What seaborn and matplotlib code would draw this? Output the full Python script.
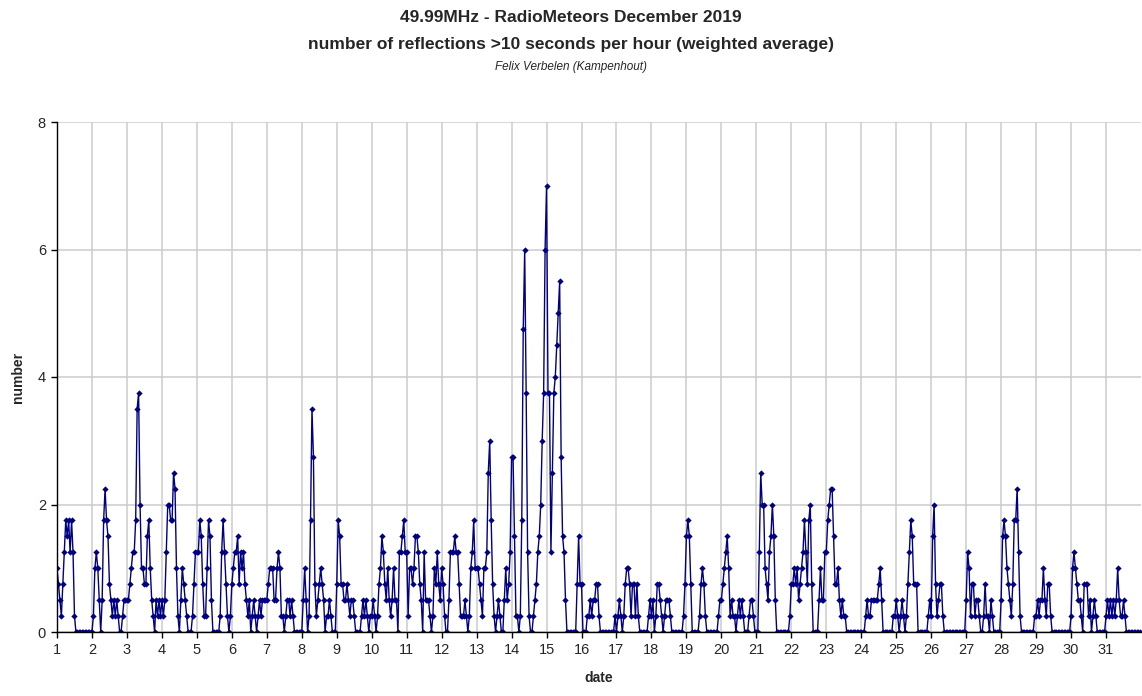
import numpy as np
import pandas as pd
import matplotlib
matplotlib.use("Agg")
import matplotlib.pyplot as plt
import seaborn as sns

# Hourly values (24 per day), December 2019
d01 = [1.0, 0.75, 0.5, 0.25, 0.75, 1.25, 1.75, 1.5, 1.75, 1.25, 1.75, 1.25, 0.25, 0, 0, 0, 0, 0, 0, 0, 0, 0, 0, 0]
d02 = [0, 0.25, 1.0, 1.25, 1.0, 0.5, 0, 0.5, 1.75, 2.25, 1.75, 1.5, 0.75, 0.5, 0.25, 0.5, 0.25, 0.5, 0.25, 0, 0, 0.25, 0.5, 0.5]
d03 = [0.5, 0.5, 0.75, 1.0, 1.25, 1.25, 1.75, 3.5, 3.75, 2.0, 1.0, 1.0, 0.75, 0.75, 1.5, 1.75, 1.0, 0.5, 0.25, 0, 0.5, 0.25, 0.5, 0.25]
d04 = [0.5, 0.25, 0.5, 1.25, 2.0, 2.0, 1.75, 1.75, 2.5, 2.25, 1.0, 0.25, 0, 0.5, 1.0, 0.75, 0.5, 0.25, 0, 0, 0, 0.25, 0.75, 1.25]
d05 = [1.25, 1.25, 1.75, 1.5, 0.75, 0.25, 0.25, 1.0, 1.75, 1.5, 0.5, 0, 0, 0, 0, 0, 0.25, 1.25, 1.75, 1.25, 0.75, 0.25, 0, 0.25]
d06 = [0.75, 1.0, 1.25, 1.25, 1.5, 0.75, 1.25, 1.0, 1.25, 0.75, 0.5, 0.25, 0.5, 0, 0.25, 0.5, 0.25, 0, 0.25, 0.5, 0.25, 0.5, 0.5, 0.5]
d07 = [0.5, 0.75, 1.0, 1.0, 1.0, 0.5, 0.5, 1.0, 1.25, 1.0, 0.25, 0.25, 0, 0.25, 0.5, 0.5, 0.25, 0.5, 0.25, 0, 0, 0, 0, 0]
d08 = [0, 0.5, 1.0, 0.5, 0, 0.25, 1.75, 3.5, 2.75, 0.75, 0.25, 0.5, 0.75, 1.0, 0.75, 0.5, 0, 0.25, 0.25, 0.5, 0.25, 0, 0, 0]
d09 = [0.75, 1.75, 1.5, 0.75, 0.75, 0.5, 0.5, 0.75, 0.5, 0.25, 0.5, 0.5, 0.25, 0, 0, 0, 0, 0.25, 0.5, 0.25, 0.5, 0.25, 0, 0.25]
d10 = [0.25, 0.5, 0.25, 0, 0.25, 0.75, 1.0, 1.5, 1.25, 0.75, 0.5, 1.0, 0.5, 0.25, 0.5, 1.0, 0.5, 0.5, 0, 1.25, 1.25, 1.5, 1.75, 1.25]
d11 = [1.25, 0.25, 1.0, 1.0, 0.75, 1.0, 1.5, 1.5, 1.25, 0.75, 0.5, 0, 1.25, 0.5, 0.5, 0.5, 0.25, 0, 0.25, 1.0, 0.75, 1.25, 0.75, 0.5]
d12 = [1.0, 0.75, 0.25, 0, 0, 0.5, 1.25, 1.25, 1.25, 1.5, 1.25, 1.25, 0.75, 0.25, 0.25, 0.25, 0.5, 0.25, 0, 0.25, 1.0, 1.25, 1.75, 1.0]
d13 = [1.0, 1.0, 0.75, 0.5, 0.25, 1.0, 1.0, 1.25, 2.5, 3.0, 1.75, 0.75, 0.25, 0, 0.25, 0.5, 0.25, 0, 0, 0.5, 1.0, 0.5, 0.75, 1.25]
d14 = [2.75, 2.75, 1.5, 0.25, 0.25, 0, 0.25, 1.75, 4.75, 6.0, 3.75, 1.25, 0.25, 0, 0, 0.25, 0.5, 0.75, 1.25, 1.5, 2.0, 3.0, 3.75, 6.0]
d15 = [7.0, 3.75, 3.75, 1.25, 2.5, 3.75, 4.0, 4.5, 5.0, 5.5, 2.75, 1.5, 1.25, 0.5, 0, 0, 0, 0, 0, 0, 0, 0.75, 1.5, 0.75]
d16 = [0.75, 0, 0, 0, 0.25, 0.25, 0.5, 0.25, 0.5, 0.5, 0.75, 0.75, 0.25, 0, 0, 0, 0, 0, 0, 0, 0, 0, 0, 0.25]
d17 = [0, 0.25, 0.5, 0.25, 0, 0.25, 0.75, 1.0, 1.0, 0.75, 0.25, 0.75, 0.75, 0.25, 0.75, 0.25, 0, 0, 0, 0, 0, 0, 0.25, 0.5]
d18 = [0.25, 0.5, 0, 0.25, 0.75, 0.75, 0.5, 0.25, 0, 0.25, 0.5, 0.5, 0.5, 0.25, 0, 0, 0, 0, 0, 0, 0, 0, 0.25, 0.75]
d19 = [1.5, 1.75, 1.5, 0.75, 0, 0, 0, 0, 0, 0.25, 0.75, 1.0, 0.75, 0.25, 0, 0, 0, 0, 0, 0, 0, 0, 0.25, 0.5]
d20 = [0.5, 0.75, 1.0, 1.25, 1.5, 1.0, 0.25, 0.5, 0.25, 0.25, 0, 0.25, 0.5, 0.25, 0.5, 0.25, 0, 0, 0, 0.25, 0.5, 0.5, 0.25, 0]
d21 = [0, 0, 1.25, 2.5, 2.0, 2.0, 1.0, 0.75, 0.5, 1.25, 1.5, 2.0, 1.5, 0.5, 0, 0, 0, 0, 0, 0, 0, 0, 0, 0.25]
d22 = [0.75, 0.75, 1.0, 0.75, 1.0, 0.5, 0.75, 1.0, 1.25, 1.75, 1.25, 0.75, 1.75, 2.0, 0.75, 0, 0, 0, 0, 0.5, 1.0, 0.5, 0.5, 1.25]
d23 = [1.25, 1.75, 2.0, 2.25, 2.25, 1.5, 0.75, 0.75, 1.0, 0.5, 0.25, 0.5, 0.25, 0.25, 0, 0, 0, 0, 0, 0, 0, 0, 0, 0]
d24 = [0, 0, 0, 0.25, 0.5, 0.25, 0.25, 0.5, 0.5, 0.5, 0.5, 0.5, 0.75, 1.0, 0.5, 0, 0, 0, 0, 0, 0, 0, 0.25, 0.25]
d25 = [0.5, 0.25, 0, 0.25, 0.5, 0.25, 0, 0.25, 0.75, 1.25, 1.75, 1.5, 0.75, 0.75, 0.75, 0, 0, 0, 0, 0, 0, 0, 0.25, 0.5]
d26 = [0.25, 1.5, 2.0, 0.75, 0.25, 0.5, 0.75, 0.75, 0.25, 0, 0, 0, 0, 0, 0, 0, 0, 0, 0, 0, 0, 0, 0, 0]
d27 = [0.5, 1.25, 1.0, 0.25, 0.75, 0.75, 0.25, 0.5, 0.5, 0.25, 0, 0, 0.25, 0.75, 0.25, 0.25, 0, 0.5, 0.25, 0, 0, 0, 0, 0]
d28 = [0.5, 1.5, 1.75, 1.5, 1.0, 0.75, 0.5, 0.25, 0.75, 1.75, 1.75, 2.25, 1.25, 0.25, 0, 0, 0, 0, 0, 0, 0, 0, 0, 0.25]
d29 = [0.25, 0.5, 0.25, 0.5, 0.5, 1.0, 0.5, 0.25, 0.75, 0.75, 0.25, 0, 0, 0, 0, 0, 0, 0, 0, 0, 0, 0, 0, 0]
d30 = [0.25, 1.0, 1.25, 1.0, 0.75, 0.5, 0.5, 0.25, 0, 0.75, 0.75, 0.75, 0.25, 0.5, 0, 0.25, 0.5, 0.25, 0, 0, 0, 0, 0, 0]
d31 = [0.25, 0.5, 0.25, 0.5, 0.25, 0.5, 0.25, 0.5, 1.0, 0.5, 0.25, 0.25, 0.5, 0.25, 0, 0, 0, 0, 0, 0, 0, 0, 0, 0]

days = list(range(1, 32))
day_labels = [str(d) for d in days]
y_ticks = [0, 2, 4, 6, 8]

all_days = [d01, d02, d03, d04, d05, d06, d07, d08, d09, d10, d11, d12, d13, d14, d15, d16,
            d17, d18, d19, d20, d21, d22, d23, d24, d25, d26, d27, d28, d29, d30, d31]

t = []
v = []
for day, vals in zip(days, all_days):
    for h, val in enumerate(vals):
        t.append(day + h / 24.0)
        v.append(val)
df = pd.DataFrame({"date": t, "number": v})

sns.set_theme(style="white")
plt.rcParams['font.family'] = ['Liberation Sans', 'DejaVu Sans']

fig = plt.figure(figsize=(11.42, 6.96), dpi=100)
ax = fig.add_axes([57/1142, 1 - 632/696, (1141 - 57)/1142, (632 - 122)/696])

sns.lineplot(data=df, x="date", y="number", ax=ax, color="#000080", linewidth=1.0,
             marker="D", markersize=3.2, markeredgewidth=0, estimator=None, errorbar=None)

ax.set_xlim(1, 32)
ax.set_ylim(0, 8)
ax.set_xticks(days)
ax.set_xticklabels(day_labels, fontsize=10.5)
ax.set_yticks(y_ticks)
ax.set_yticklabels([str(y) for y in y_ticks], fontsize=10.5)
ax.grid(True, color="#cccccc", linewidth=1.1)
ax.set_axisbelow(True)
for s in ["top", "right"]:
    ax.spines[s].set_visible(False)
for s in ["left", "bottom"]:
    ax.spines[s].set_color("black")
    ax.spines[s].set_linewidth(1.0)
ax.tick_params(axis="both", which="both", direction="out", length=4, width=1, color="black",
               bottom=True, left=True, pad=4)

ax.set_xlabel("date", fontsize=10, fontweight="bold", labelpad=10)
ax.set_ylabel("number", fontsize=10, fontweight="bold")
ax.yaxis.set_label_coords((25 - 57) / (1141 - 57), 0.5)

fig.text(0.5, 1 - 18/696, "49.99MHz - RadioMeteors December 2019", ha="center", va="center",
         fontsize=12.5, fontweight="bold")
fig.text(0.5, 1 - 45/696, "number of reflections >10 seconds per hour (weighted average)", ha="center",
         va="center", fontsize=12.5, fontweight="bold")
fig.text(0.5, 1 - 67/696, "Felix Verbelen (Kampenhout)", ha="center", va="center",
         fontsize=8.5, fontstyle="italic")

fig.savefig("out.png", dpi=100)
